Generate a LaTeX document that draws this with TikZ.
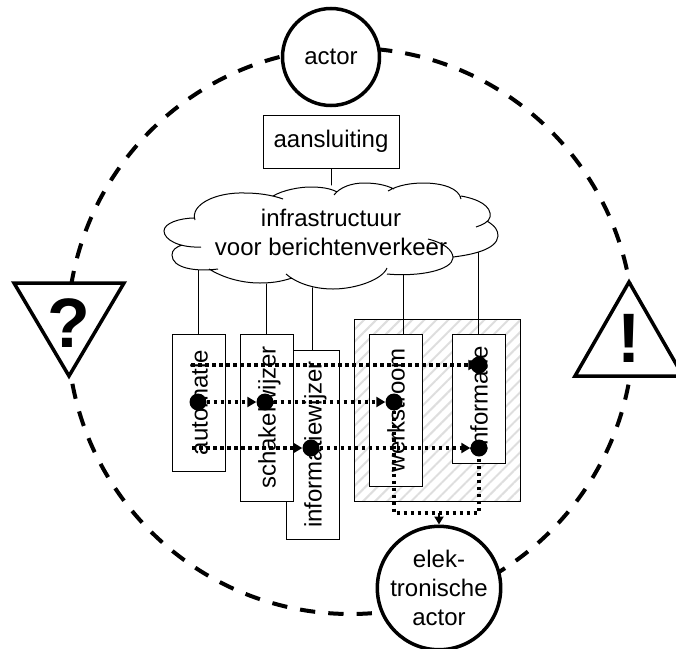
\documentclass[tikz,border=0pt]{standalone}
\usepackage{fontspec}
\setmainfont{Liberation Sans}
\usetikzlibrary{arrows.meta,patterns.meta}
\tikzset{
	box/.style={draw=black,line width=1,fill=white,inner sep=0,font=\fontsize{24}{29}\selectfont},
	vbox/.style={box,rotate=90,minimum height=53,text height=18,text depth=0},
	role/.style={circle,draw=black,line width=3.5,fill=white,inner sep=0,align=center,font=\fontsize{24}{29}\selectfont},
	ring/.style={circle,draw=black,line width=4,inner sep=0,minimum size=566,dash pattern=on 15.3 off 13.1,dash phase=23.3},
	sign/.style={draw=black,line width=3.5,fill=white,line join=miter},
	signtext/.style={inner sep=0,font=\fontsize{70}{70}\selectfont\bfseries},
	hop/.style={circle,fill=black,inner sep=0,minimum size=17},
	dotline/.style={line width=3.3,dash pattern=on 3.5 off 3.5},
	flow/.style={dotline,-{Triangle[length=9,width=10]}},
	link/.style={draw=black,line width=1},
}
\begin{document}
\begin{tikzpicture}[x=1pt,y=-1pt]
	\useasboundingbox (0,0) rectangle (676,648);

	\node[ring] (ring) at (350.5,331) {};

	\draw[sign] (14,283) -- (124,283) -- (69,376) -- cycle;
	\node[signtext] (question) at (69,323) {?};
	\draw[sign] (629,282) -- (683,376) -- (575,376) -- cycle;
	\node[signtext] (exclaim) at (629,338) {!};

	\node[role,minimum size=97] (actor) at (331,57) {actor};
	\node[role,minimum size=114] (eactor) at (439,588) {elek-\\tronische\\actor};

	\node[draw=black,line width=1,minimum width=166,minimum height=182,inner sep=0,
		pattern={Lines[angle=45,distance=8.5,line width=2]},pattern color=black!13] (flowarea) at (437,410) {};

	\coordinate (cloudmid) at (331,232);
	\node[box,minimum width=136,minimum height=53] (aansluiting) at (331,141.5) {aansluiting};

	\node[vbox,minimum width=189] (infowijzer) at (312.5,444.5) {informatiewijzer};
	\node[vbox,minimum width=137] (automatie) at (198.5,402.5) {automatie};
	\node[vbox,minimum width=167] (schakel) at (266.5,417.5) {schakelwijzer};
	\node[vbox,minimum width=152] (werkstroom) at (395.5,410) {werkstroom};
	\node[vbox,minimum width=129] (informatie) at (478.5,398.5) {informatie};

	\draw[link] (aansluiting) -- (cloudmid);
	\draw[link] (automatie.east) -- (automatie.east |- cloudmid);
	\draw[link] (schakel.east) -- (schakel.east |- cloudmid);
	\draw[link] (infowijzer.east) -- (infowijzer.east |- cloudmid);
	\draw[link] ([xshift=7.5]werkstroom.east) -- ([xshift=7.5]werkstroom.east |- cloudmid);
	\draw[link] (informatie.east) -- (informatie.east |- cloudmid);

	\fill[white] (195,218) -- (245,193) -- (310,187) -- (364,183) -- (423,183) -- (461,196) -- (490,217) -- (498,236)
		-- (453,258) -- (387,274) -- (333,289) -- (260,283) -- (209,269) -- (172,255) -- (164,231) -- cycle;
	\draw[black,line width=1,fill=white]
		(195,220) .. controls (190,205) and (215,192) .. (245,193) .. controls (258,193) and (272,195) .. (283,199)
		(273,196) .. controls (283,190) and (300,187) .. (310,187) .. controls (320,187) and (330,188) .. (337,192)
		(334,195) .. controls (340,187) and (352,183) .. (364,183) .. controls (376,183) and (386,185) .. (394,189)
		(388,191) .. controls (398,185) and (412,183) .. (423,183) .. controls (442,183) and (459,188) .. (461,199)
		(461,196) .. controls (478,199) and (492,206) .. (490,217) .. controls (489,222) and (482,225) .. (476,227)
		(487,221) .. controls (495,226) and (498,230) .. (498,236) .. controls (497,250) and (470,255) .. (453,257)
		(428,239) .. controls (444,243) and (453,250) .. (453,258) .. controls (452,270) and (420,277) .. (387,274)
		(387,268) .. controls (382,280) and (355,289) .. (333,289) .. controls (312,289) and (295,282) .. (286,274)
		(292,278) .. controls (280,282) and (270,283) .. (260,283) .. controls (240,283) and (222,277) .. (209,269)
		(218,269) .. controls (195,272) and (172,268) .. (172,255) .. controls (172,250) and (176,247) .. (182,245)
		(201,247) .. controls (180,248) and (164,240) .. (164,231) .. controls (164,223) and (180,218) .. (195,218);
	\node[align=center,inner sep=0,font=\fontsize{24}{29}\selectfont] (cloud) at (331,232) {infrastructuur\\voor berichtenverkeer};

	\coordinate (rowtop) at (191,365);
	\coordinate (rowbot) at (192,448);
	\coordinate (merge) at (439,513);
	\node[hop] (hopauto) at (198,402) {};
	\node[hop] (hopschakel) at (265,402) {};
	\node[hop] (hopwijzer) at (311,448) {};
	\node[hop] (hopwerk) at (394,402) {};
	\node[hop] (hopinfotop) at (479,365) {};
	\node[hop] (hopinfobot) at (479,448) {};

	\draw[flow,shorten >=-7] (rowtop) -- (hopinfotop);
	\draw[flow] (hopauto) -- (hopschakel);
	\draw[flow] (hopschakel) -- (hopwerk);
	\draw[flow] (rowbot) -- (hopwijzer);
	\draw[flow] (hopwijzer) -- (hopinfobot);
	\draw[dotline] (hopwerk) |- (merge) -| (hopinfobot);
	\draw[line width=2,-{Triangle[length=8,width=9]}] (merge) -- (eactor);
\end{tikzpicture}
\end{document}
